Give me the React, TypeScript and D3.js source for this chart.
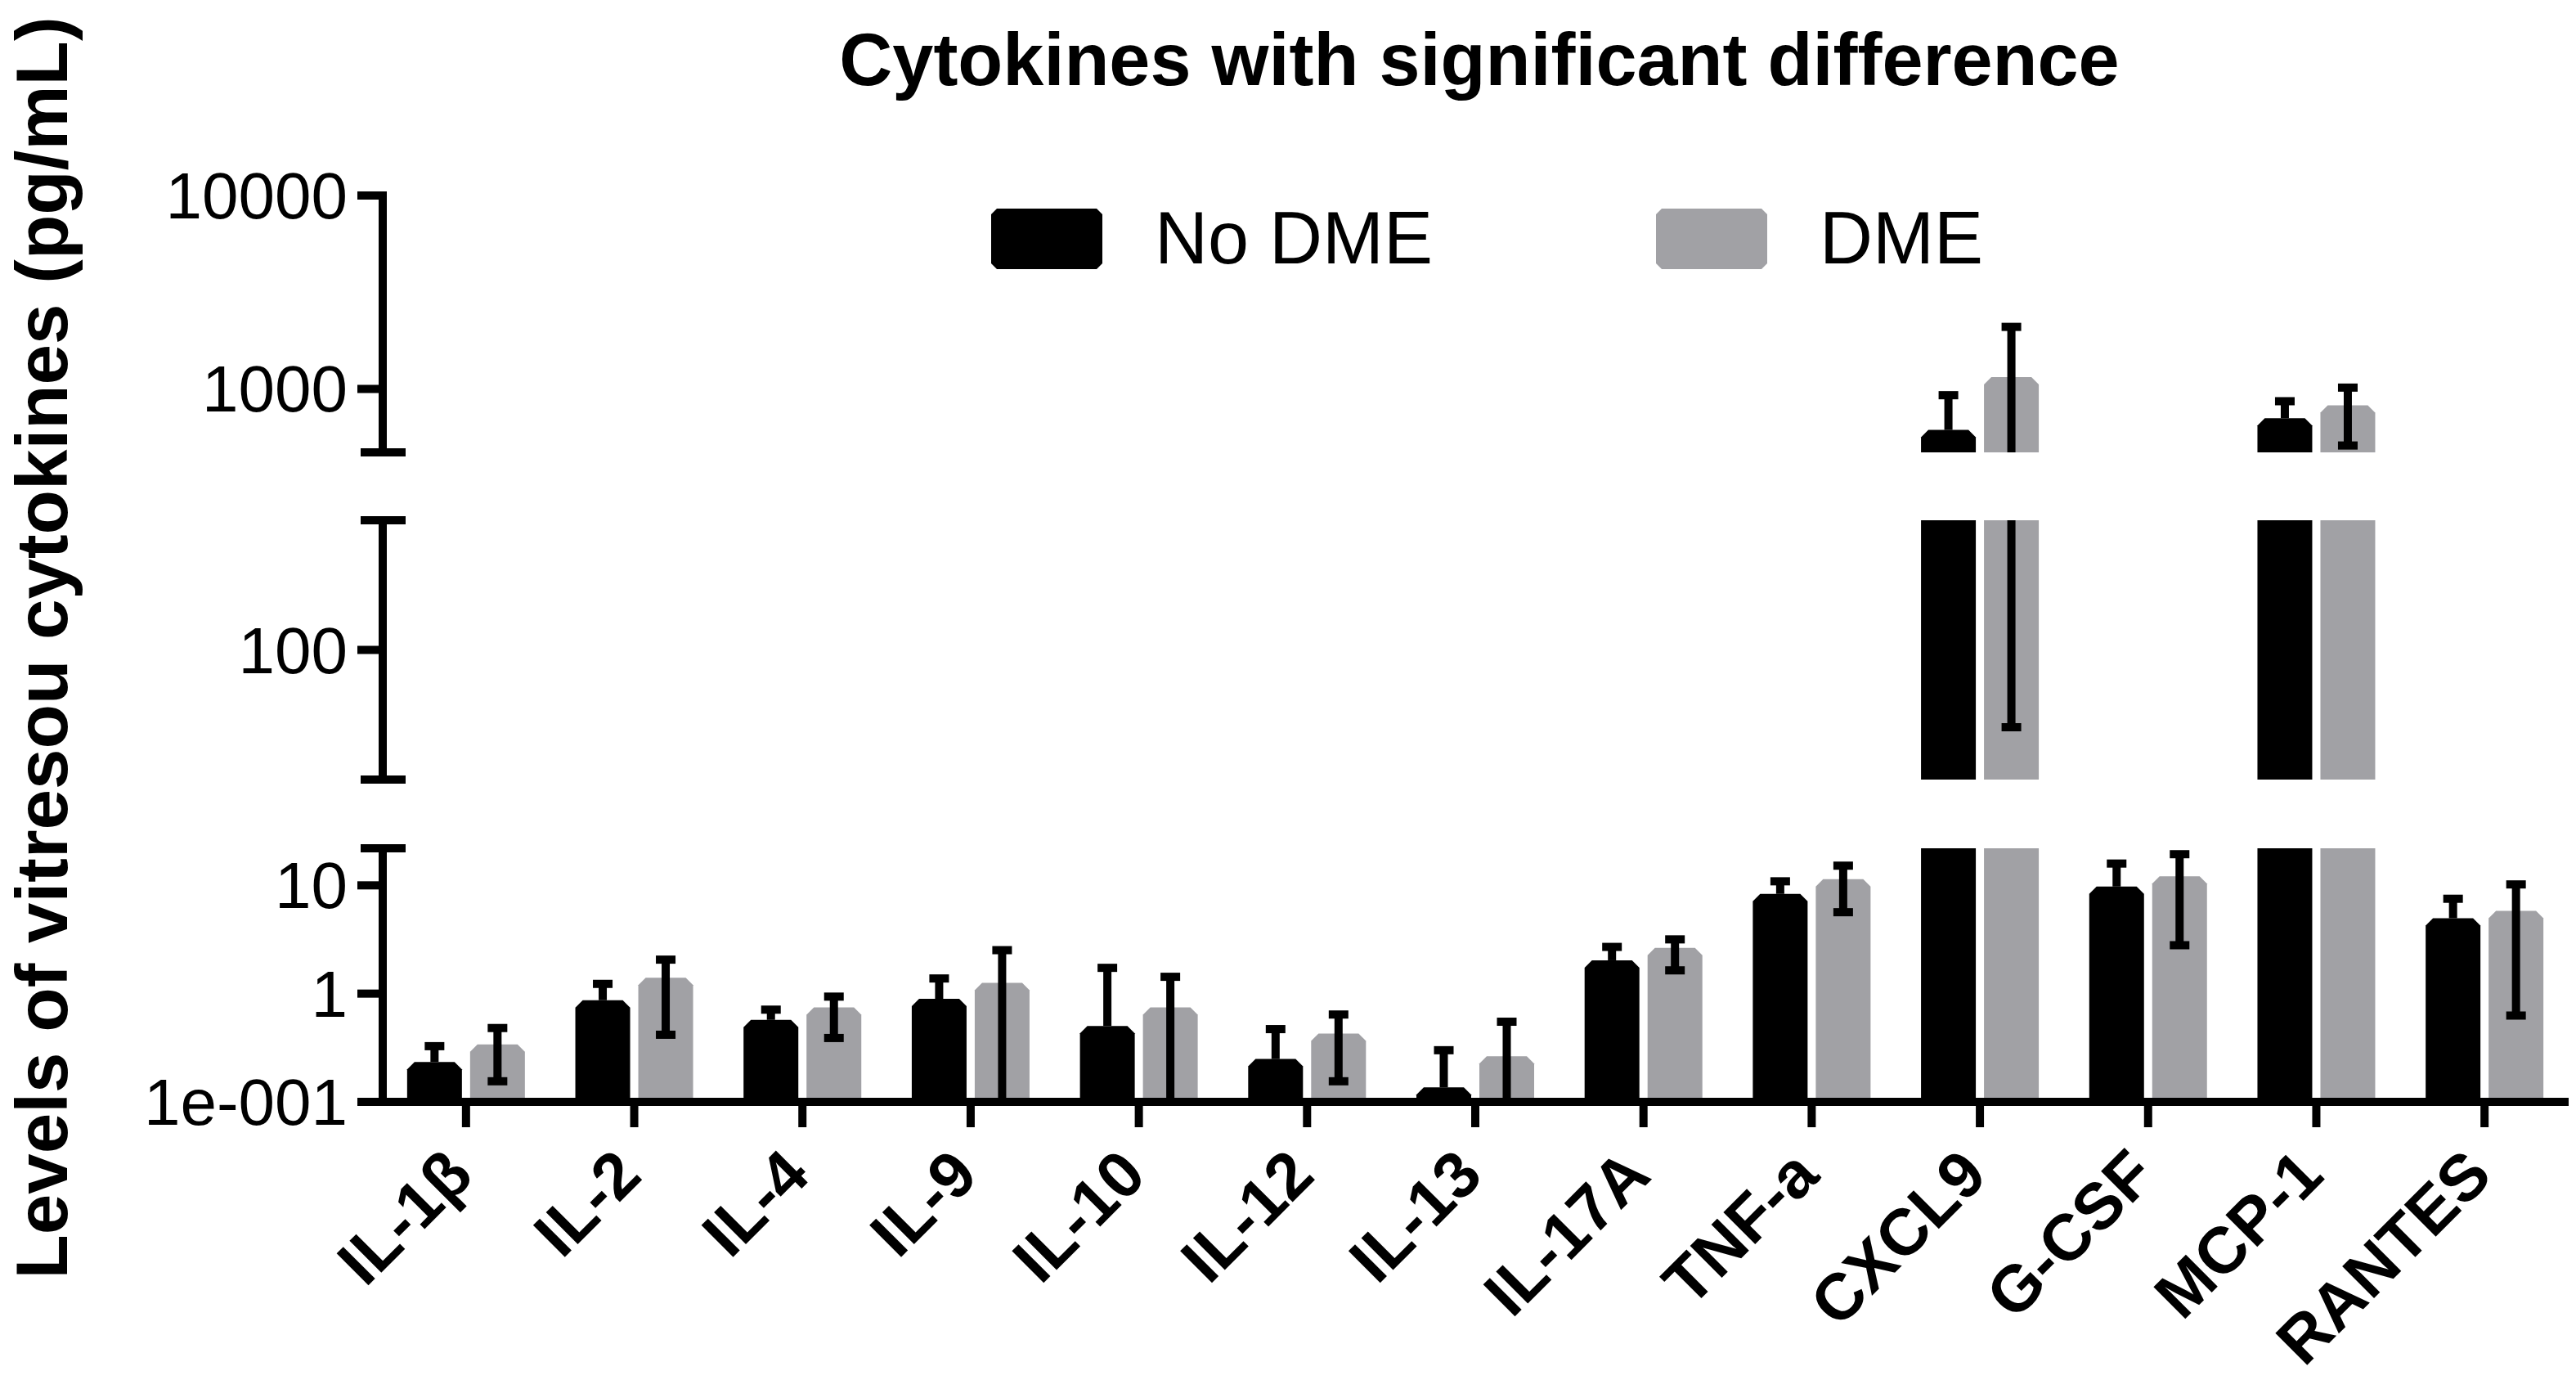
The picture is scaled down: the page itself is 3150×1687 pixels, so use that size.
import { useEffect } from 'react';
import * as d3 from 'd3';

// data
const categories = ['IL-1β', 'IL-2', 'IL-4', 'IL-9', 'IL-10', 'IL-12', 'IL-13', 'IL-17A', 'TNF-a', 'CXCL9', 'G-CSF', 'MCP-1', 'RANTES'];
const seriesNames = ['No DME', 'DME'];
const noDme = [0.234, 0.869, 0.572, 0.895, 0.503, 0.249, 0.136, 2.03, 8.34, 614, 9.75, 706, 4.97];
const noDmeUpper = [0.327, 1.23, 0.711, 1.38, 1.73, 0.47, 0.3, 2.7, 10.9, 928, 15.9, 864, 7.52];
const dme = [0.34, 1.4, 0.745, 1.26, 0.745, 0.428, 0.264, 2.64, 11.4, 1150, 12.1, 823, 5.81];
const dmeUpper = [0.481, 2.06, 0.938, 2.52, 1.43, 0.641, 0.55, 3.17, 15.2, 2093, 19.4, 1016, 10.2];
const dmeLower = [0.155, 0.417, 0.389, 0, 0, 0.155, 0, 1.64, 5.65, 38.3, 2.8, 510, 0.627];
const yTicks = [0.1, 1, 10, 100, 1000, 10000];
const yTickLabels = ['1e-001', '1', '10', '100', '1000', '10000'];
// broken y axis: three log segments
const segDomains: [number, number][] = [[0.1, 22], [20, 500], [470, 10000]];

const W = 3150;
const H = 1687;
const FONT = '"Liberation Sans", Arial, sans-serif';
const GREY = '#a1a1a5';
const axisX = 468;
const segRanges: [number, number][] = [[1347, 1037], [953, 636], [553, 239]];

const segs = segDomains.map((dom, i) => d3.scaleLog().domain(dom).range(segRanges[i]).clamp(true));

const x = d3.scaleBand<string>().domain(categories).range([467, 3141]).padding(0);

function barPath(x0: number, x1: number, yb: number, yt: number, chamfer: boolean) {
  const k = chamfer ? Math.min(9, yb - yt) : 0;
  return `M${x0},${yb}L${x0},${yt + k}L${x0 + k},${yt}L${x1 - k},${yt}L${x1},${yt + k}L${x1},${yb}Z`;
}

// legend swatch: chamfered on all four corners
function swatchPath(x0: number, y0: number, w: number, h: number, k = 7) {
  return `M${x0 + k},${y0}L${x0 + w - k},${y0}L${x0 + w},${y0 + k}L${x0 + w},${y0 + h - k}L${x0 + w - k},${y0 + h}L${x0 + k},${y0 + h}L${x0},${y0 + h - k}L${x0},${y0 + k}Z`;
}

export default function App() {
  useEffect(() => {
    document.body.style.margin = '0';
    document.body.style.overflow = 'hidden';
  }, []);

  const series = [
    { vals: noDme, hi: noDmeUpper, lo: noDme, fill: '#000', off: [-72, -5] },
    { vals: dme, hi: dmeUpper, lo: dmeLower, fill: GREY, off: [5, 72] },
  ];

  const bars: JSX.Element[] = [];
  const errs: JSX.Element[] = [];
  series.forEach((s, si) => {
    categories.forEach((c, ci) => {
      const cx = (x(c) ?? 0) + x.bandwidth() / 2;
      const v = s.vals[ci];
      segs.forEach((sc, gi) => {
        const [dmin, dmax] = sc.domain();
        if (v <= dmin) return;
        const yb = sc(dmin);
        const yt = sc(Math.min(v, dmax));
        bars.push(
          <path key={`b${si}-${ci}-${gi}`} d={barPath(cx + s.off[0], cx + s.off[1], yb, yt, v <= dmax)} fill={s.fill} />
        );
        // error bar, clipped to this segment
        const ex = (cx + s.off[0] + cx + s.off[1]) / 2;
        const hi = s.hi[ci];
        const a = Math.max(s.lo[ci], dmin);
        const b = Math.min(hi, dmax);
        if (b > a) {
          errs.push(
            <line key={`e${si}-${ci}-${gi}`} x1={ex} x2={ex} y1={sc(a)} y2={sc(b)} stroke="#000" strokeWidth={10} />
          );
        }
        if (hi >= dmin && hi <= dmax) {
          errs.push(<rect key={`h${si}-${ci}-${gi}`} x={ex - 12} y={sc(hi) - 5} width={24} height={10} fill="#000" />);
        }
        if (s.lo !== s.vals && s.lo[ci] > dmin && s.lo[ci] <= dmax) {
          errs.push(<rect key={`l${si}-${ci}-${gi}`} x={ex - 12} y={sc(s.lo[ci]) - 5} width={24} height={10} fill="#000" />);
        }
      });
    });
  });

  const tickSeg = (t: number) => segs.find((sc) => t >= sc.domain()[0] && t <= sc.domain()[1])!;

  return (
    <svg width={W} height={H} style={{ display: 'block', background: '#fff' }} fontFamily={FONT}>
      <text x={1809} y={104} textAnchor="middle" fontSize={90} fontWeight="bold">
        Cytokines with significant difference
      </text>
      <text transform={`translate(82,792) rotate(-90)`} textAnchor="middle" fontSize={89} fontWeight="bold">
        Levels of vitresou cytokines (pg/mL)
      </text>

      {/* legend */}
      {seriesNames.map((n, i) => {
        const bx = [1212, 2025][i];
        return (
          <g key={n}>
            <path d={swatchPath(bx, 255, 136, 74)} fill={series[i].fill} />
            <text x={bx + 200} y={322} fontSize={90}>{n}</text>
          </g>
        );
      })}

      {bars}
      {errs}

      {/* y axis segments */}
      <g stroke="#000" strokeWidth={10} fill="none">
        <line x1={axisX} x2={axisX} y1={234} y2={558} />
        <line x1={441} x2={496} y1={553} y2={553} />
        <line x1={axisX} x2={axisX} y1={631} y2={958} />
        <line x1={441} x2={496} y1={636} y2={636} />
        <line x1={441} x2={496} y1={953} y2={953} />
        <line x1={axisX} x2={axisX} y1={1032} y2={1352} />
        <line x1={441} x2={496} y1={1037} y2={1037} />
        <line x1={437} x2={3141} y1={1347} y2={1347} />
        {yTicks.map((t) => (
          <line key={t} x1={437} x2={axisX} y1={tickSeg(t)(t)} y2={tickSeg(t)(t)} />
        ))}
        {categories.map((c) => {
          const cx = (x(c) ?? 0) + x.bandwidth() / 2;
          return <line key={c} x1={cx} x2={cx} y1={1347} y2={1378} />;
        })}
      </g>
      {yTicks.map((t, i) => (
        <text key={t} x={425} y={tickSeg(t)(t)} dy="0.35em" textAnchor="end" fontSize={80}>
          {yTickLabels[i]}
        </text>
      ))}
      {categories.map((c) => {
        const cx = (x(c) ?? 0) + x.bandwidth() / 2;
        return (
          <text key={c} transform={`translate(${cx + 12},1440) rotate(-45)`} textAnchor="end" fontSize={80} fontWeight="bold">
            {c}
          </text>
        );
      })}
    </svg>
  );
}
